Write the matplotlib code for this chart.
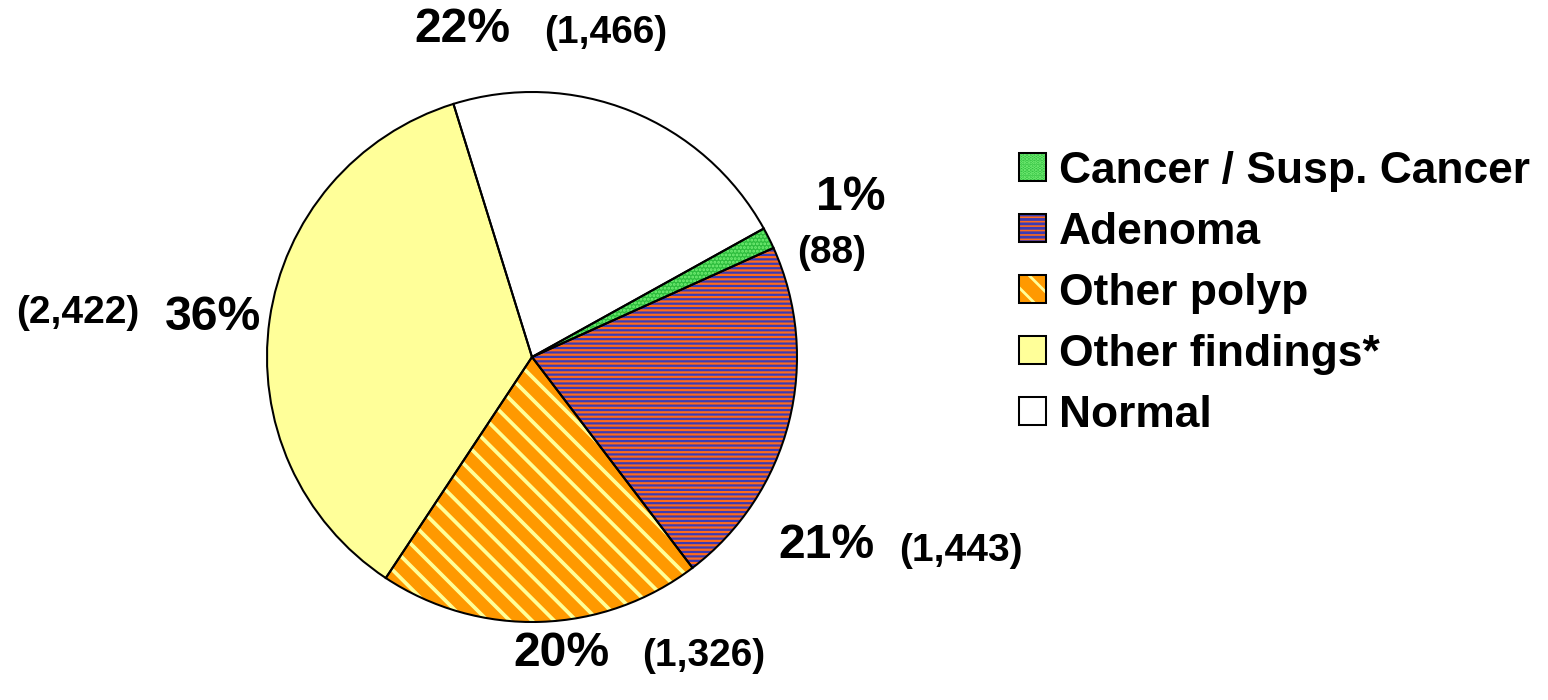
import matplotlib
matplotlib.use("Agg")
import matplotlib.pyplot as plt
from matplotlib.patches import Patch
from matplotlib.legend_handler import HandlerTuple

# ---- data ----
categories = ["Cancer / Susp. Cancer", "Adenoma", "Other polyp", "Other findings*", "Normal"]
counts = [88, 1443, 1326, 2422, 1466]

# ---- styles ----
face_colors = ["#2EBD3E", "#FF6A1A", "#FF9900", "#FFFF99", "#FFFFFF"]
hatch_colors = ["#77F077", "#3B3BB5", "#FFFF99", "#FFFF99", "#FFFFFF"]
hatches = ["......", "-----", "\\\\", None, None]
hatch_lws = [1.0, 1.2, 2.0, 1.0, 1.0]

# label layout (image pixel coords: center of text)
pct_pos = [(851, 197), (826, 546), (561, 654), (213, 318), (462, 30)]
cnt_pos = [(832, 253), (961, 551), (704, 656), (78, 313), (606, 33)]

W, H = 1548, 700
DPI = 133.333
plt.rcParams['font.family'] = ['Liberation Sans', 'DejaVu Sans']
plt.rcParams['font.weight'] = 'bold'
plt.rcParams['hatch.linewidth'] = 1.5

fig = plt.figure(figsize=(W / DPI, H / DPI), dpi=DPI)
ax = fig.add_axes([0, 0, 1, 1])

center = (532, H - 357)
radius = 265
total = sum(counts)


def set_hlw(p, lw):
    if hasattr(p, 'set_hatch_linewidth'):
        p.set_hatch_linewidth(lw)
    else:
        p._hatch_linewidth = lw


wedges, _ = ax.pie(counts, startangle=29, counterclock=False,
                   center=center, radius=radius, frame=False,
                   colors=face_colors, wedgeprops=dict(linewidth=0))
for w, hc, h, hlw in zip(wedges, hatch_colors, hatches, hatch_lws):
    w.set_edgecolor(hc)
    w.set_linewidth(0)
    if h:
        w.set_hatch(h)
        set_hlw(w, hlw)

outline, _ = ax.pie(counts, startangle=29, counterclock=False,
                    center=center, radius=radius, frame=False,
                    colors=['none'] * len(counts),
                    wedgeprops=dict(edgecolor='black', linewidth=1.1))

ax.set_xlim(0, W)
ax.set_ylim(0, H)
ax.set_aspect('equal')
ax.axis('off')

for v, (px, py), (cx, cy) in zip(counts, pct_pos, cnt_pos):
    pct = round(v / total * 100)
    ax.text(px, H - py, f"{pct}%", ha='center', va='center',
            fontsize=26, fontweight='bold', color='black')
    ax.text(cx, H - cy, f"({v:,})", ha='center', va='center',
            fontsize=21, fontweight='bold', color='black')

# legend
handles = []
for fc, hc, h, hlw in zip(face_colors, hatch_colors, hatches, hatch_lws):
    p = Patch(facecolor=fc, edgecolor=hc, hatch=h, linewidth=0)
    if h:
        set_hlw(p, hlw)
    o = Patch(facecolor='none', edgecolor='black', linewidth=1.1)
    handles.append((p, o))

leg = ax.legend(handles, categories, handler_map={tuple: HandlerTuple(ndivide=1, pad=0)},
                loc='upper left', bbox_to_anchor=(1019 / W, 1 - 151 / H),
                frameon=False, borderpad=0, borderaxespad=0,
                prop=dict(family='Liberation Sans', weight='bold', size=24),
                handlelength=0.6, handleheight=0.6, handletextpad=0.3,
                labelspacing=0.45)

fig.savefig("out.png", dpi=DPI)
